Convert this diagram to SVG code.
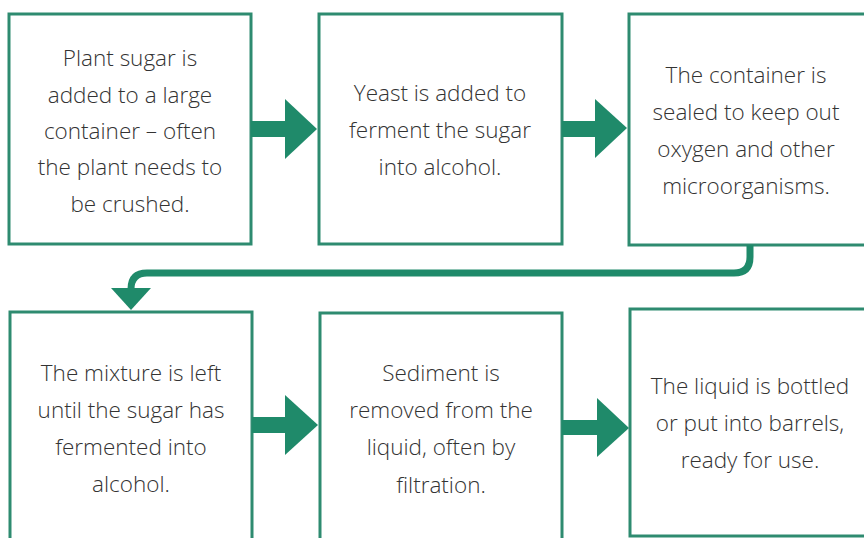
<svg xmlns="http://www.w3.org/2000/svg" width="864" height="538" viewBox="0 0 864 538">
  <defs>
    <style>
      .box { fill: #ffffff; stroke: #2e8b70; stroke-width: 3; }
      .lbl { font-family: "Open Sans", "Noto Sans", "Liberation Sans", sans-serif; font-size: 22.5px; font-weight: 300; fill: #333333; text-anchor: middle; }
      .arr { fill: #1f8a6a; stroke: none; }
      .link { fill: none; stroke: #1f8a6a; stroke-width: 7; }
    </style>
  </defs>
  <rect x="0" y="0" width="864" height="538" fill="#ffffff"/>

  <g id="node1">
    <rect class="box" x="9" y="14" width="242" height="230"/>
    <text class="lbl" x="130" y="66">Plant sugar is</text>
    <text class="lbl" x="130" y="103">added to a large</text>
    <text class="lbl" x="130" y="139">container – often</text>
    <text class="lbl" x="130" y="175">the plant needs to</text>
    <text class="lbl" x="130" y="212">be crushed.</text>
  </g>

  <g id="node2">
    <rect class="box" x="319" y="14" width="243" height="230"/>
    <text class="lbl" x="440" y="101">Yeast is added to</text>
    <text class="lbl" x="440" y="138">ferment the sugar</text>
    <text class="lbl" x="440" y="175">into alcohol.</text>
  </g>

  <g id="node3">
    <rect class="box" x="629" y="14" width="250" height="231"/>
    <text class="lbl" x="746" y="83">The container is</text>
    <text class="lbl" x="746" y="120">sealed to keep out</text>
    <text class="lbl" x="746" y="157">oxygen and other</text>
    <text class="lbl" x="746" y="194">microorganisms.</text>
  </g>

  <g id="node4">
    <rect class="box" x="10" y="312" width="242" height="240"/>
    <text class="lbl" x="131" y="381">The mixture is left</text>
    <text class="lbl" x="131" y="418">until the sugar has</text>
    <text class="lbl" x="131" y="455">fermented into</text>
    <text class="lbl" x="131" y="492">alcohol.</text>
  </g>

  <g id="node5">
    <rect class="box" x="320" y="313" width="242" height="240"/>
    <text class="lbl" x="441" y="381">Sediment is</text>
    <text class="lbl" x="441" y="418">removed from the</text>
    <text class="lbl" x="441" y="455">liquid, often by</text>
    <text class="lbl" x="441" y="493">filtration.</text>
  </g>

  <g id="node6">
    <rect class="box" x="630" y="309" width="250" height="227"/>
    <text class="lbl" x="750" y="394">The liquid is bottled</text>
    <text class="lbl" x="750" y="431">or put into barrels,</text>
    <text class="lbl" x="750" y="468">ready for use.</text>
  </g>

  <g id="connectors">
    <rect class="arr" x="251" y="121" width="36" height="16"/>
    <polygon class="arr" points="285,99 317,129 285,159"/>
    <rect class="arr" x="562" y="121" width="35" height="16"/>
    <polygon class="arr" points="595,99 627,128 595,158"/>
    <path class="link" d="M 750 245 V 257 Q 750 273 734 273 H 147 Q 131 273 131 289 V 292"/>
    <polygon class="arr" points="111,288 151,288 131,310"/>
    <rect class="arr" x="252" y="417" width="35" height="16"/>
    <polygon class="arr" points="285,395 318,425 285,455"/>
    <rect class="arr" x="562" y="420" width="37" height="15"/>
    <polygon class="arr" points="597,398 629,428 597,457"/>
  </g>
</svg>
